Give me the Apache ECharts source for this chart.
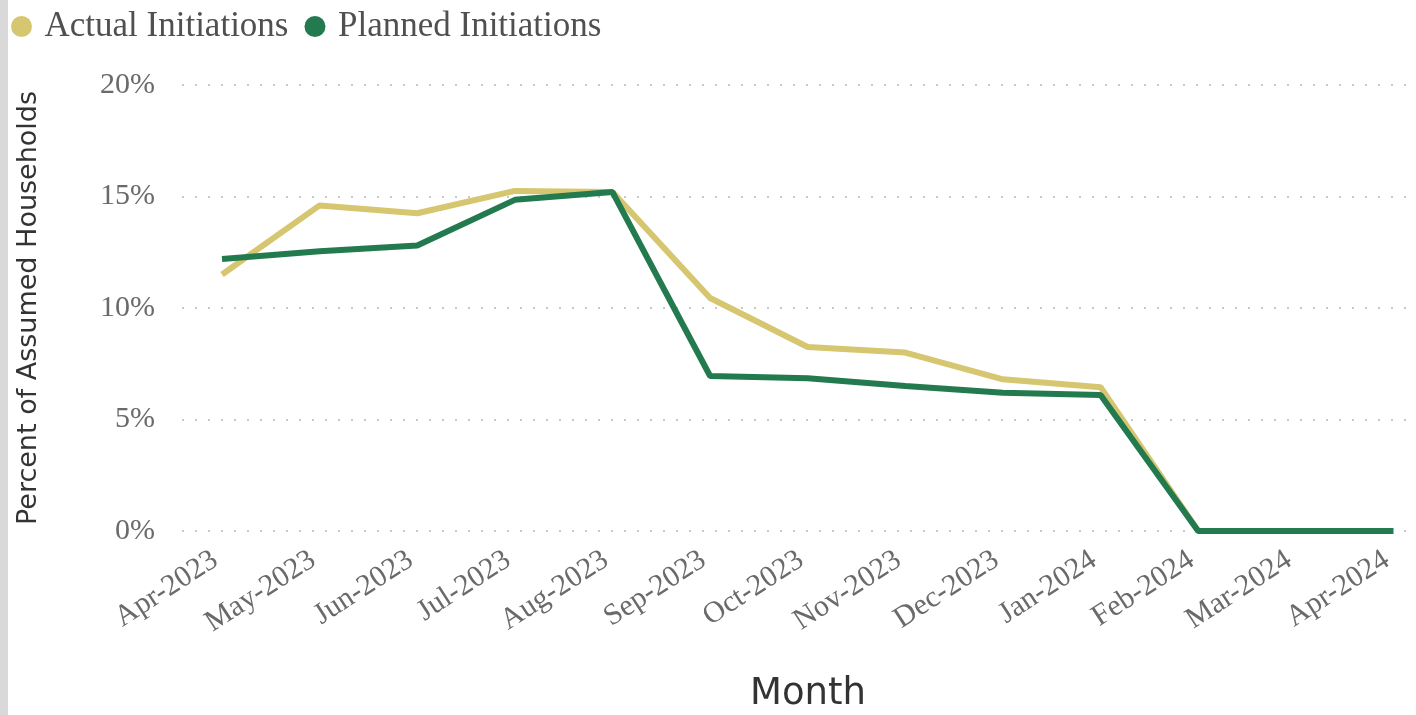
<!DOCTYPE html>
<html>
<head>
<meta charset="utf-8">
<script src="https://cdn.jsdelivr.net/npm/echarts@6/dist/echarts.min.js"></script>
<style>
  html, body { margin: 0; padding: 0; background: #fff; }
  #main { width: 1416px; height: 715px; }
  .edge { position: absolute; left: 0; top: 0; width: 8px; height: 715px; background: #d9d9d9; }
</style>
</head>
<body>
<div id="main"></div>
<div class="edge"></div>
<script>
// months on the x axis
var months = ['Apr-2023', 'May-2023', 'Jun-2023', 'Jul-2023', 'Aug-2023', 'Sep-2023', 'Oct-2023',
  'Nov-2023', 'Dec-2023', 'Jan-2024', 'Feb-2024', 'Mar-2024', 'Apr-2024']
// percent of assumed households
var actualInit = [11.5, 14.6, 14.25, 15.25, 15.2, 10.45, 8.25, 8.0, 6.8, 6.45, 0, 0, 0]
var plannedInit = [12.2, 12.55, 12.8, 14.85, 15.2, 6.95, 6.85, 6.5, 6.2, 6.1, 0, 0, 0]
var yTicks = [0, 5, 10, 15, 20]

var chart = echarts.init(document.getElementById('main'))

var option = {
  backgroundColor: '#fff',
  animation: false,
  color: ['#d6c66f', '#247a4f'],
  legend: {
    left: 6,
    top: 4,
    icon: 'circle',
    itemWidth: 36,
    itemHeight: 21,
    itemGap: 16,
    textStyle: {
      fontFamily: 'Liberation Serif',
      fontSize: 35,
      color: '#505050'
    },
    data: ['Actual Initiations', 'Planned Initiations']
  },
  grid: {
    left: 182,
    right: 6,
    top: 85,
    bottom: 184,
    outerBoundsMode: 'none'
  },
  xAxis: {
    type: 'value',
    min: -0.41,
    max: 12.17,
    name: 'Month',
    nameLocation: 'middle',
    nameGap: 145,
    nameTextStyle: {
      fontFamily: 'DejaVu Sans',
      fontSize: 37,
      color: '#333',
      padding: [0, 0, 0, 24]
    },
    axisLine: { show: false },
    axisTick: { show: false },
    splitLine: { show: false },
    axisLabel: {
      customValues: months.map(function (m, i) { return i }),
      formatter: function (v) { return months[Math.round(v)] },
      rotate: 33,
      margin: 22,
      padding: [0, 8, 0, 0],
      fontFamily: 'Liberation Serif',
      fontSize: 30,
      color: '#6a6a6a'
    }
  },
  yAxis: {
    type: 'value',
    min: yTicks[0],
    max: yTicks[yTicks.length - 1],
    interval: 5,
    name: 'Percent of Assumed Households',
    nameLocation: 'middle',
    nameRotate: 90,
    nameGap: 140,
    nameTextStyle: {
      fontFamily: 'DejaVu Sans',
      fontSize: 27,
      color: '#333'
    },
    axisLine: { show: false },
    axisTick: { show: false },
    axisLabel: {
      formatter: '{value}%',
      margin: 27,
      fontFamily: 'Liberation Serif',
      fontSize: 30,
      color: '#6a6a6a'
    },
    splitLine: {
      lineStyle: {
        color: '#c8c8c8',
        width: 2,
        type: [2, 11]
      }
    }
  },
  series: [
    {
      name: 'Actual Initiations',
      type: 'line',
      showSymbol: false,
      lineStyle: { width: 6 },
      data: actualInit.map(function (v, i) { return [i, v] })
    },
    {
      name: 'Planned Initiations',
      type: 'line',
      showSymbol: false,
      lineStyle: { width: 6 },
      data: plannedInit.map(function (v, i) { return [i, v] })
    }
  ]
}

chart.setOption(option, true)
</script>
</body>
</html>
